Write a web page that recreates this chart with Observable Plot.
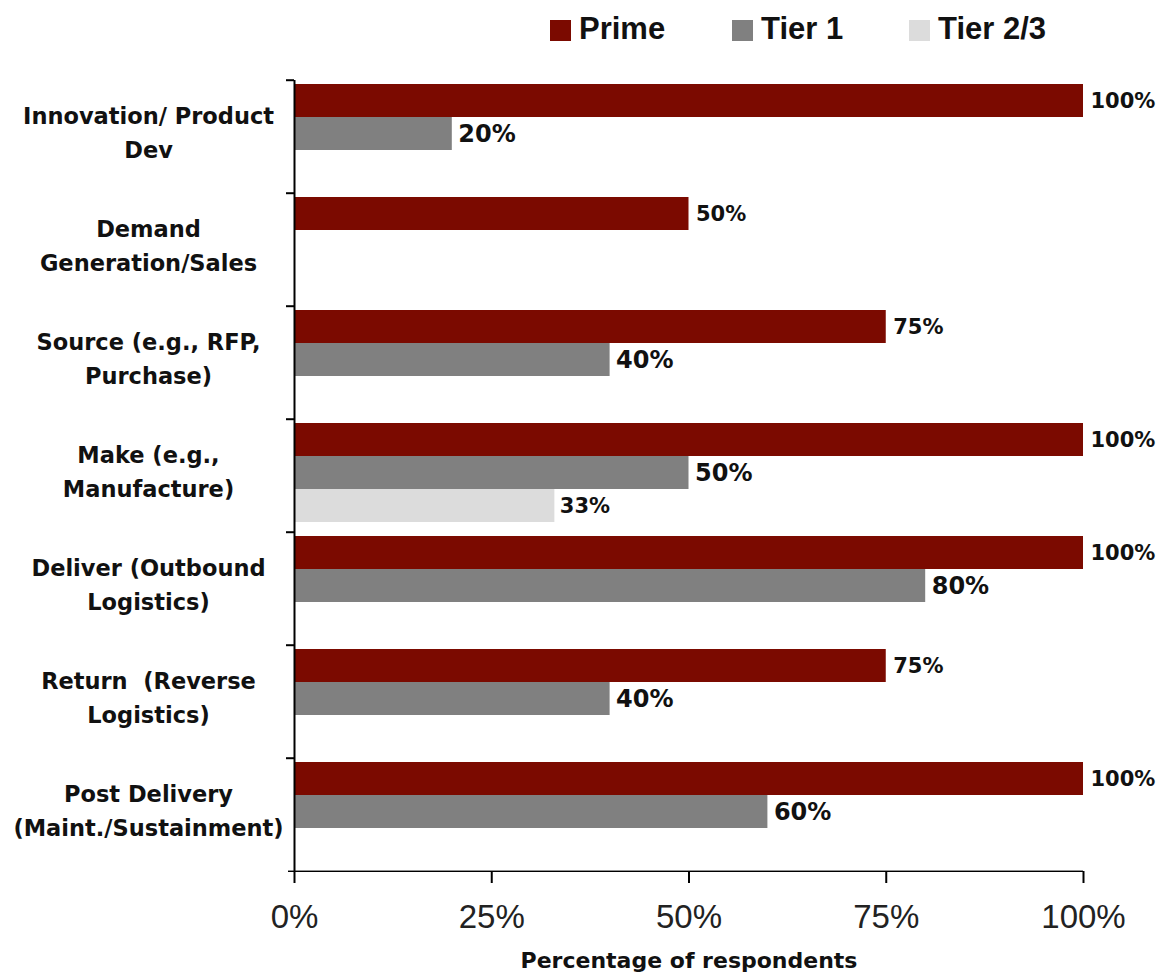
<!DOCTYPE html>
<html><head><meta charset="utf-8">
<script src="https://cdn.jsdelivr.net/npm/d3@7"></script>
<script src="https://cdn.jsdelivr.net/npm/@observablehq/plot@0.6"></script>
<style>
body{margin:0;background:#fff;}
#legend{position:relative;width:1157px;height:56px;font-family:"Liberation Sans",Arial,sans-serif;font-weight:bold;font-size:31px;color:#111;}
.sw{position:absolute;top:20px;width:21px;height:21px;}
.lt{position:absolute;top:11px;line-height:36px;white-space:nowrap;}
</style></head><body>
<div id="legend"></div>
<div id="chart"></div>
<script>
const categories = [
  "Innovation/ Product\nDev",
  "Demand\nGeneration/Sales",
  "Source (e.g., RFP,\nPurchase)",
  "Make (e.g.,\nManufacture)",
  "Deliver (Outbound\nLogistics)",
  "Return  (Reverse\nLogistics)",
  "Post Delivery\n(Maint./Sustainment)"
];
const series = ["Prime", "Tier 1", "Tier 2/3"];
const colors = ["#7b0a00", "#808080", "#dcdcdc"];
const prime = [100, 50, 75, 100, 100, 75, 100];
const tier1 = [20, null, 40, 50, 80, 40, 60];
const tier23 = [null, null, null, 33, null, null, null];
const xTicks = [0, 25, 50, 75, 100];
const axisTitle = "Percentage of respondents";

// legend
const legendLeft = [550, 732, 909];
const legend = document.getElementById("legend");
series.forEach((s, i) => {
  const sw = document.createElement("div");
  sw.className = "sw"; sw.style.left = legendLeft[i] + "px"; sw.style.background = colors[i];
  const t = document.createElement("div");
  t.className = "lt"; t.style.left = (legendLeft[i] + 29) + "px"; t.textContent = s;
  legend.appendChild(sw); legend.appendChild(t);
});

const rows = [];
const seriesValues = [prime, tier1, tier23];
categories.forEach((c, i) => {
  seriesValues.forEach((arr, j) => {
    if (arr[i] != null) rows.push({category: c, series: series[j], value: arr[i]});
  });
});

const H = 916, MT = 22, MB = 99;
const step = (H - MT - MB) / categories.length;
const labelFont = "DejaVu Sans, Verdana, sans-serif";
const lastCat = categories[categories.length - 1];

const chart = Plot.plot({
  width: 1157, height: H,
  marginTop: MT, marginBottom: MB, marginLeft: 294, marginRight: 74,
  style: {background: "#fff", color: "#000", fontFamily: labelFont, overflow: "visible"},
  x: {domain: [0, 100]},
  fy: {domain: categories, padding: 0},
  y: {domain: series, paddingInner: 0, paddingOuter: 0.17, align: 0.3, axis: null},
  color: {domain: series, range: colors},
  marks: [
    Plot.barX(rows, {x: "value", y: "series", fy: "category", fill: "series"}),
    Plot.ruleX([0], {stroke: "#000", strokeWidth: 2}),
    // x-axis baseline (bottom edge of the last facet)
    Plot.rect([0], {x1: xTicks[0], x2: xTicks[xTicks.length - 1], fy: () => lastCat,
      insetTop: step - 1, insetBottom: -1, insetLeft: -6, fill: "#000"}),
    Plot.axisFy({anchor: "left", tickSize: 8, fill: "none", dy: -step / 2, strokeWidth: 2, label: null}),
    Plot.axisX({ticks: xTicks, tickFormat: d => d + "%", tickSize: 12, tickPadding: 21, strokeWidth: 2,
      fontSize: 33, fontFamily: "Liberation Sans Narrow, Arial Narrow, Liberation Sans, sans-serif", fill: "#222", label: null}),
    Plot.text(categories, {fy: d => d, text: d => d, frameAnchor: "left", dx: -146, dy: -7, textAnchor: "middle",
      lineHeight: 1.54, fontSize: 22.5, fontWeight: "bold", fill: "#111"}),
    Plot.text(rows.filter(d => d.series === "Prime"), {x: "value", y: "series", fy: "category", text: d => d.value + "%",
      dx: 7, textAnchor: "start", fontSize: 21, fontWeight: "bold", fill: "#111"}),
    Plot.text(rows.filter(d => d.series === "Tier 1"), {x: "value", y: "series", fy: "category", text: d => d.value + "%",
      dx: 6, textAnchor: "start", fontSize: 24, fontWeight: "bold", fill: "#111"}),
    Plot.text(rows.filter(d => d.series === "Tier 2/3"), {x: "value", y: "series", fy: "category", text: d => d.value + "%",
      dx: 5, textAnchor: "start", fontSize: 21, fontWeight: "bold", fill: "#111"}),
    Plot.text([axisTitle], {x: () => 50, fy: () => lastCat, frameAnchor: "bottom",
      dy: 96, text: d => d, textAnchor: "middle", fontSize: 22, fontWeight: "bold", fill: "#111"})
  ]
});
document.getElementById("chart").appendChild(chart);
</script>
</body></html>
